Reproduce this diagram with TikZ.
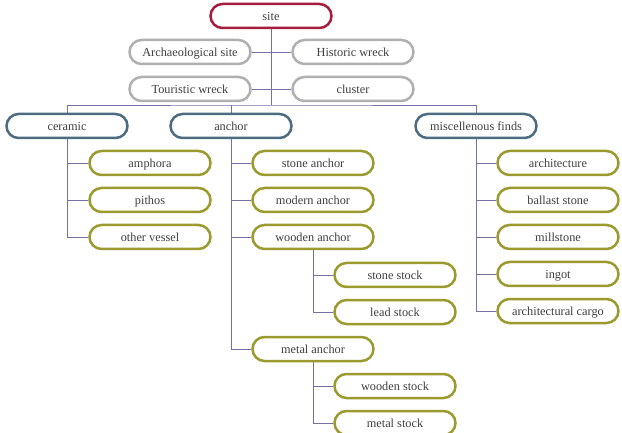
\documentclass[tikz,border=0pt]{standalone}
\usepackage{fontspec}
\setmainfont{Liberation Serif}
\usetikzlibrary{backgrounds}
\definecolor{sitec}{HTML}{A51E3E}
\definecolor{grayc}{HTML}{B0B0B0}
\definecolor{bluec}{HTML}{4E6C80}
\definecolor{olivec}{HTML}{9A9A2E}
\definecolor{linkc}{HTML}{7272A8}
\definecolor{textc}{HTML}{404040}
\begin{document}
\begin{tikzpicture}[x=1pt,y=-1pt,
  box/.style={draw, line width=2.5pt, rounded corners=12pt, minimum width=121pt, minimum height=24pt, inner sep=0pt, text height=1.0em, text depth=0.1em, fill=white, text=textc, font=\fontsize{12.3}{14}\selectfont},
  sitebox/.style={box, draw=sitec},
  graybox/.style={box, draw=grayc},
  bluebox/.style={box, draw=bluec},
  olivebox/.style={box, draw=olivec},
  link/.style={draw=linkc, line width=0.8pt}]
\useasboundingbox (0,0) rectangle (622,433);
\node[sitebox] (site) at (271,16) {site};
\node[graybox] (arch) at (190,52) {Archaeological site};
\node[graybox] (hist) at (353,52) {Historic wreck};
\node[graybox] (tour) at (190,89) {Touristic wreck};
\node[graybox] (clus) at (353,89) {cluster};
\coordinate (bus) at (271,105);
\node[bluebox] (ceramic) at (67,126) {ceramic};
\node[bluebox] (anchor) at (231,126) {anchor};
\node[bluebox] (misc) at (476,126) {miscellenous finds};
\node[olivebox] (amph) at (150,163) {amphora};
\node[olivebox] (pith) at (150,200) {pithos};
\node[olivebox] (other) at (150,237) {other vessel};
\node[olivebox] (stonea) at (313,163) {stone anchor};
\node[olivebox] (moda) at (313,200) {modern anchor};
\node[olivebox] (wooda) at (313,237) {wooden anchor};
\node[olivebox] (stones) at (395,275) {stone stock};
\node[olivebox] (leads) at (395,312) {lead stock};
\node[olivebox] (metala) at (313,349) {metal anchor};
\node[olivebox] (woods) at (395,386) {wooden stock};
\node[olivebox] (metals) at (395,423) {metal stock};
\node[olivebox] (archi) at (558,163) {architecture};
\node[olivebox] (ball) at (558,200) {ballast stone};
\node[olivebox] (mill) at (558,237) {millstone};
\node[olivebox] (ingot) at (558,274) {ingot};
\node[olivebox] (cargo) at (558,311) {architectural cargo};
\begin{scope}[on background layer]
\draw[link] (site.south) -- (bus);
\draw[link] (arch.east) -- (hist.west);
\draw[link] (tour.east) -- (clus.west);
\draw[link] (ceramic.north) |- (bus) -| (misc.north);
\draw[link] (anchor.north) -- (anchor.north |- bus);
\foreach \c in {amph,pith,other} \draw[link] (ceramic.south) |- (\c.west);
\foreach \c in {stonea,moda,wooda,metala} \draw[link] (anchor.south) |- (\c.west);
\foreach \c in {stones,leads} \draw[link] (wooda.south) |- (\c.west);
\foreach \c in {woods,metals} \draw[link] (metala.south) |- (\c.west);
\foreach \c in {archi,ball,mill,ingot,cargo} \draw[link] (misc.south) |- (\c.west);
\end{scope}
\end{tikzpicture}
\end{document}
